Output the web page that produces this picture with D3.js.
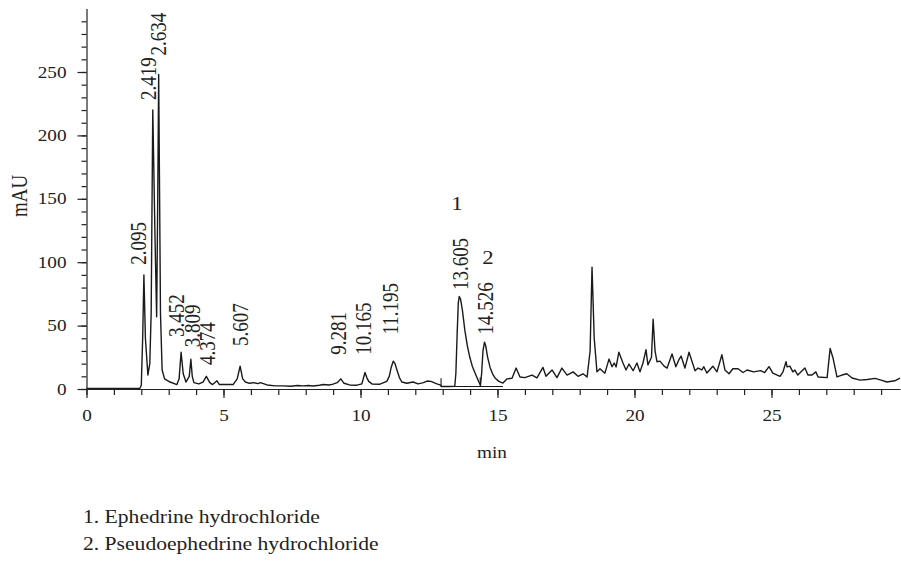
<!DOCTYPE html>
<html>
<head>
<meta charset="utf-8">
<script src="https://cdn.jsdelivr.net/npm/d3@7"></script>
<style>
body { margin: 0; background: #fff; }
svg { display: block; }
text { font-family: "Liberation Serif", "Times New Roman", serif; fill: #222; }
</style>
</head>
<body>
<div id="chart"></div>
<script>
// chromatogram trace: retention time (min) and signal (mAU)
var times = [0, 1.0, 1.95, 2.0, 2.05, 2.095, 2.15, 2.24, 2.31, 2.36, 2.419, 2.5, 2.56, 2.6, 2.634, 2.7, 2.76, 2.85,
    3.05, 3.3, 3.38, 3.452, 3.53, 3.63, 3.75, 3.809, 3.86, 3.92, 4.1, 4.25, 4.374, 4.5, 4.6, 4.68, 4.76, 4.85,
    5.1, 5.35, 5.5, 5.607, 5.7, 5.8, 5.95, 6.1, 6.26, 6.35, 6.59, 6.9, 7.17, 7.45, 7.7, 7.9, 8.1, 8.27, 8.5,
    8.64, 8.85, 9.0, 9.15, 9.281, 9.4, 9.6, 9.87, 10.05, 10.1, 10.165, 10.23, 10.3, 10.42, 10.71, 10.96,
    11.05, 11.12, 11.195, 11.26, 11.33, 11.42, 11.51, 11.69, 11.92, 12.1, 12.3, 12.43, 12.57, 12.79, 12.93,
    12.95, 13.2, 13.44, 13.48, 13.53, 13.57, 13.605, 13.65, 13.72, 13.81, 13.9, 13.99, 14.08, 14.18, 14.32,
    14.38, 14.42, 14.47, 14.526, 14.57, 14.64, 14.73, 14.82, 14.91, 15.05, 15.2, 15.35, 15.53, 15.68,
    15.82, 16.0, 16.26, 16.44, 16.66, 16.77, 16.99, 17.17, 17.35, 17.54, 17.76, 17.94, 18.12, 18.27, 18.38,
    18.45, 18.53, 18.63, 18.74, 18.92, 19.07, 19.18, 19.26, 19.33, 19.43, 19.58, 19.69, 19.8, 19.95, 20.09,
    20.2, 20.31, 20.42, 20.49, 20.62, 20.68, 20.75, 20.82, 20.93, 21.08, 21.19, 21.37, 21.51, 21.62, 21.7,
    21.84, 21.99, 22.14, 22.21, 22.32, 22.46, 22.53, 22.64, 22.86, 23.01, 23.19, 23.3, 23.45, 23.59, 23.78,
    23.96, 24.11, 24.35, 24.6, 24.75, 24.91, 25.05, 25.31, 25.42, 25.53, 25.57, 25.67, 25.78, 25.85, 25.96,
    26.22, 26.33, 26.48, 26.62, 26.7, 27.03, 27.14, 27.25, 27.39, 27.57, 27.75, 27.94, 28.23, 28.5, 28.78,
    29.0, 29.21, 29.5, 29.69];
var signal = [0.5, 0.5, 0.6, 3, 40, 90, 40, 11, 20, 60, 220, 120, 57, 150, 248, 60, 15, 8,
    5.5, 3.5, 8, 29, 12, 5.5, 10, 23.5, 10, 5, 4, 5.5, 10, 5, 3.5, 5, 6.5, 3.5,
    3.5, 3.5, 8, 18, 8, 5.5, 4.5, 5, 4.2, 5, 3.2, 2.5, 2.5, 2.2, 2.8, 2.5, 2.8, 2.4, 3,
    3.5, 3.2, 3.8, 5, 8, 4.5, 3.2, 3, 4, 8, 13, 9, 6, 4, 3.8, 6,
    10, 17, 22, 20, 15, 9, 5.5, 4.5, 5.5, 4, 5, 6.3, 6, 4, 3,
    2, 2, 2.2, 12, 45, 68, 73, 71, 62, 46, 34, 25, 18, 12.6, 5.5,
    3, 12, 30, 37, 34, 25, 17, 12, 8.7, 6, 4.7, 8, 8.5, 16.5,
    9.5, 9, 11, 8.7, 17, 10, 15, 9, 16.5, 11, 13.5, 10, 12, 9.5, 30,
    96, 40, 13.5, 16, 12.5, 23.6, 17.6, 20.5, 17.4, 29, 20.5, 15, 19.7, 14.4, 20.5,
    13.5, 20.5, 31, 19, 25, 55, 30, 21.5, 22, 18, 16.5, 27.6, 17.6, 23, 26,
    16.5, 29, 19, 14.4, 16.5, 15, 17.6, 12.6, 18, 13.5, 27, 15, 12, 16, 16,
    13, 15, 13.5, 14.5, 13, 17.6, 12.6, 10, 13.5, 21.5, 17.4, 18, 13.5, 15, 11,
    16.5, 11, 11, 13.5, 9.5, 9, 32, 24, 9.5, 11, 12, 8.7, 7, 7.5, 8.4,
    7, 5.5, 6.5, 8.5];

// integration baseline under the two marked peaks
var baseFrom = 12.94, baseTo = 15.2, baseLevel = 2;
var dropTimes = [12.94, 14.37];
var dropTops = [8.5, 9];

// peak annotations: label text, where it sits (min) and where it starts (mAU)
var peakLabels = ["2.095", "2.419", "2.634", "3.452", "3.809", "4.374", "5.607", "9.281", "10.165", "11.195", "13.605", "14.526"];
var labelTime = [1.88, 2.24, 2.61, 3.27, 3.85, 4.40, 5.60, 9.18, 10.09, 11.08, 13.63, 14.54];
var labelBase = [98, 228, 263, 41, 33, 19, 34, 27, 27, 43, 78, 43];

var compoundIds = ["1", "2"];
var compoundTime = [13.52, 14.65];
var compoundLevel = [141, 98.5];
var compoundNames = ["1. Ephedrine hydrochloride", "2. Pseudoephedrine hydrochloride"];

var xMajorTicks = [0, 5, 10, 15, 20, 25];
var yMajorTicks = [0, 50, 100, 150, 200, 250];

var width = 901, height = 561;
var stretch = 1.2; // the picture's text is a bit wide

var svg = d3.select("#chart").append("svg")
    .attr("width", width)
    .attr("height", height);

var x = d3.scaleLinear().domain([0, 29.69]).range([86.5, 900]);
var y = d3.scaleLinear().domain([0, 300]).range([389, 8.6]);

// x axis, minor then major
svg.append("g")
    .attr("transform", "translate(0," + y(0) + ")")
    .call(d3.axisBottom(x).tickValues(d3.range(0, 30, 1)).tickSize(6).tickSizeOuter(0).tickFormat(""))
    .call(function(g) { g.select(".domain").remove(); });

var gx = svg.append("g")
    .attr("transform", "translate(0," + y(0) + ")")
    .call(d3.axisBottom(x).tickValues(xMajorTicks).tickSize(9).tickSizeOuter(0).tickPadding(12));

// y axis, minor then major
svg.append("g")
    .attr("transform", "translate(" + x(0) + ",0)")
    .call(d3.axisLeft(y).tickValues(d3.range(0, 300, 10)).tickSize(5).tickSizeOuter(0).tickFormat(""))
    .call(function(g) { g.select(".domain").remove(); });

var gy = svg.append("g")
    .attr("transform", "translate(" + x(0) + ",0)")
    .call(d3.axisLeft(y).tickValues(yMajorTicks).tickSize(9).tickSizeOuter(0).tickPadding(11));

svg.selectAll(".tick line, .domain")
    .attr("stroke", "#222")
    .attr("stroke-width", 1.2);

gx.attr("font-family", null).attr("font-size", 16);
gx.selectAll(".tick text").attr("fill", "#222").attr("transform", "scale(" + stretch + ",1)");

gy.attr("font-family", null).attr("font-size", 16);
gy.selectAll(".tick text")
    .attr("fill", "#222")
    .attr("x", -20 / stretch)
    .attr("transform", "scale(" + stretch + ",1)");

// axis titles
svg.append("text")
    .attr("transform", "translate(" + x(14.8) + ",458) scale(" + stretch + ",1)")
    .attr("text-anchor", "middle")
    .attr("font-size", 16)
    .text("min");

svg.append("text")
    .attr("transform", "translate(27,196) scale(" + stretch + ",1) rotate(-90)")
    .attr("text-anchor", "middle")
    .attr("font-size", 19)
    .text("mAU");

// the trace
var trace = times.map(function(t, i) { return [t, signal[i]]; });
var line = d3.line()
    .x(function(d) { return x(d[0]); })
    .y(function(d) { return y(d[1]); });

svg.append("path")
    .datum(trace)
    .attr("fill", "none")
    .attr("stroke", "#1a1a1a")
    .attr("stroke-width", 1.4)
    .attr("stroke-linejoin", "round")
    .attr("d", line);

// baseline and drop marks
svg.append("path")
    .datum([[baseFrom, baseLevel], [baseTo, baseLevel]])
    .attr("fill", "none")
    .attr("stroke", "#1a1a1a")
    .attr("stroke-width", 1.1)
    .attr("d", line);

svg.selectAll(".drop")
    .data(dropTimes)
    .enter().append("line")
    .attr("class", "drop")
    .attr("x1", function(d) { return x(d); })
    .attr("x2", function(d) { return x(d); })
    .attr("y1", function(d, i) { return y(dropTops[i]); })
    .attr("y2", y(baseLevel))
    .attr("stroke", "#1a1a1a")
    .attr("stroke-width", 1.1);

// retention time labels
svg.selectAll(".rt")
    .data(peakLabels)
    .enter().append("text")
    .attr("class", "rt")
    .attr("transform", function(d, i) {
        return "translate(" + x(labelTime[i]) + "," + y(labelBase[i]) + ") scale(" + stretch + ",1) rotate(-90)";
    })
    .attr("dy", "0.35em")
    .attr("font-size", 19)
    .text(function(d) { return d; });

svg.selectAll(".cid")
    .data(compoundIds)
    .enter().append("text")
    .attr("class", "cid")
    .attr("transform", function(d, i) {
        return "translate(" + x(compoundTime[i]) + "," + y(compoundLevel[i]) + ") scale(" + stretch + ",1)";
    })
    .attr("text-anchor", "middle")
    .attr("font-size", 19)
    .text(function(d) { return d; });

// legend under the chart
svg.selectAll(".name")
    .data(compoundNames)
    .enter().append("text")
    .attr("class", "name")
    .attr("transform", function(d, i) { return "translate(83," + (523 + i * 27) + ") scale(" + stretch + ",1)"; })
    .attr("font-size", 18)
    .text(function(d) { return d; });
</script>
</body>
</html>
